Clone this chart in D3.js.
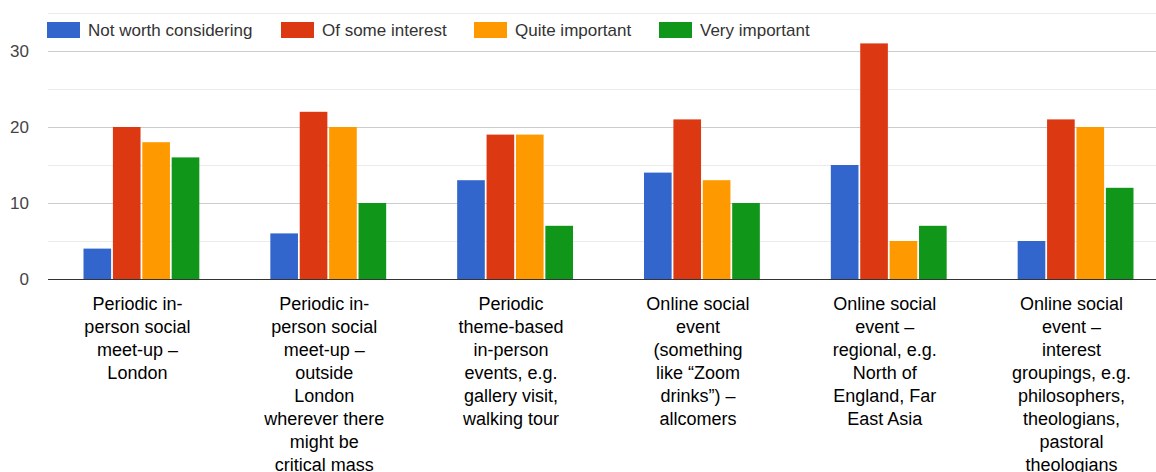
<!DOCTYPE html>
<html lang="en">
<head>
    <meta charset="UTF-8">
    <title>Social events interest</title>
    <script src="https://d3js.org/d3.v7.min.js"></script>
    <style>
        body {
            margin: 0;
            padding: 0;
            background: #fff;
            font-family: Arial, "Liberation Sans", sans-serif;
            overflow: hidden;
        }
    </style>
</head>
<body>
    <div id="chart"></div>

    <script>
        const width = 1156;
        const height = 472;

        // data
        const categories = [
            ["Periodic in-", "person social", "meet-up \u2013", "London"],
            ["Periodic in-", "person social", "meet-up \u2013", "outside", "London", "wherever there", "might be", "critical mass"],
            ["Periodic", "theme-based", "in-person", "events, e.g.", "gallery visit,", "walking tour"],
            ["Online social", "event", "(something", "like \u201cZoom", "drinks\u201d) \u2013", "allcomers"],
            ["Online social", "event \u2013", "regional, e.g.", "North of", "England, Far", "East Asia"],
            ["Online social", "event \u2013", "interest", "groupings, e.g.", "philosophers,", "theologians,", "pastoral", "theologians"]
        ];
        const seriesNames = ["Not worth considering", "Of some interest", "Quite important", "Very important"];
        const notWorth = [4, 6, 13, 14, 15, 5];
        const someInterest = [20, 22, 19, 21, 31, 21];
        const quiteImportant = [18, 20, 19, 13, 5, 20];
        const veryImportant = [16, 10, 7, 10, 7, 12];
        const yTicks = [0, 10, 20, 30];
        const minorTicks = [5, 15, 25, 35];

        const colors = ["#3366cc", "#dc3912", "#ff9900", "#109618"];
        const series = [notWorth, someInterest, quiteImportant, veryImportant];

        const margin = { left: 48, right: -13, top: 13, bottom: 193 };

        const svg = d3.select("#chart").append("svg")
            .attr("width", width)
            .attr("height", height);

        const x = d3.scaleBand()
            .domain(d3.range(categories.length))
            .range([margin.left, width - margin.right])
            .paddingInner(0.38)
            .paddingOuter(0.19);

        const xInner = d3.scaleBand()
            .domain(d3.range(series.length))
            .range([0, x.bandwidth()])
            .paddingInner(0.06);

        const y = d3.scaleLinear()
            .domain([0, 35])
            .range([279, 13]);

        // gridlines
        svg.append("g").selectAll("line.minor")
            .data(minorTicks)
            .join("line")
            .attr("x1", margin.left)
            .attr("x2", width)
            .attr("y1", d => Math.round(y(d)) + 0.5)
            .attr("y2", d => Math.round(y(d)) + 0.5)
            .attr("stroke", "#ebebeb")
            .attr("stroke-width", 1);

        svg.append("g").selectAll("line.major")
            .data(yTicks.slice(1))
            .join("line")
            .attr("x1", margin.left)
            .attr("x2", width)
            .attr("y1", d => Math.round(y(d)) + 0.5)
            .attr("y2", d => Math.round(y(d)) + 0.5)
            .attr("stroke", "#cccccc")
            .attr("stroke-width", 1);

        // y labels
        svg.append("g").selectAll("text")
            .data(yTicks)
            .join("text")
            .attr("x", 29)
            .attr("y", d => y(d))
            .attr("dy", "0.35em")
            .attr("text-anchor", "end")
            .style("font-size", "17px")
            .style("fill", "#444")
            .text(d => d);

        // bars
        const groups = svg.append("g").selectAll("g")
            .data(categories)
            .join("g")
            .attr("transform", (d, i) => `translate(${x(i)},0)`);

        groups.selectAll("rect")
            .data((d, i) => series.map((s, j) => ({ j: j, v: s[i] })))
            .join("rect")
            .attr("x", d => xInner(d.j))
            .attr("y", d => y(d.v))
            .attr("width", xInner.bandwidth())
            .attr("height", d => y(0) - y(d.v))
            .attr("fill", d => colors[d.j]);

        // baseline
        svg.append("line")
            .attr("x1", margin.left)
            .attr("x2", width)
            .attr("y1", y(0) + 0.5)
            .attr("y2", y(0) + 0.5)
            .attr("stroke", "#333")
            .attr("stroke-width", 1.2);

        // category labels
        groups.append("text")
            .attr("text-anchor", "middle")
            .style("font-size", "18px")
            .style("fill", "#000")
            .selectAll("tspan")
            .data(d => d)
            .join("tspan")
            .attr("x", x.bandwidth() / 2 - 4)
            .attr("y", (d, i) => 310 + i * 23)
            .text(d => d);

        // legend
        const legendX = [47, 281, 474, 659];
        const legend = svg.append("g").selectAll("g")
            .data(seriesNames)
            .join("g")
            .attr("transform", (d, i) => `translate(${legendX[i]},22)`);

        legend.append("rect")
            .attr("width", 33)
            .attr("height", 16)
            .attr("fill", (d, i) => colors[i]);

        legend.append("text")
            .attr("x", 41)
            .attr("y", 8)
            .attr("dy", "0.35em")
            .style("font-size", "17px")
            .style("fill", "#333")
            .text(d => d);
    </script>
</body>
</html>
